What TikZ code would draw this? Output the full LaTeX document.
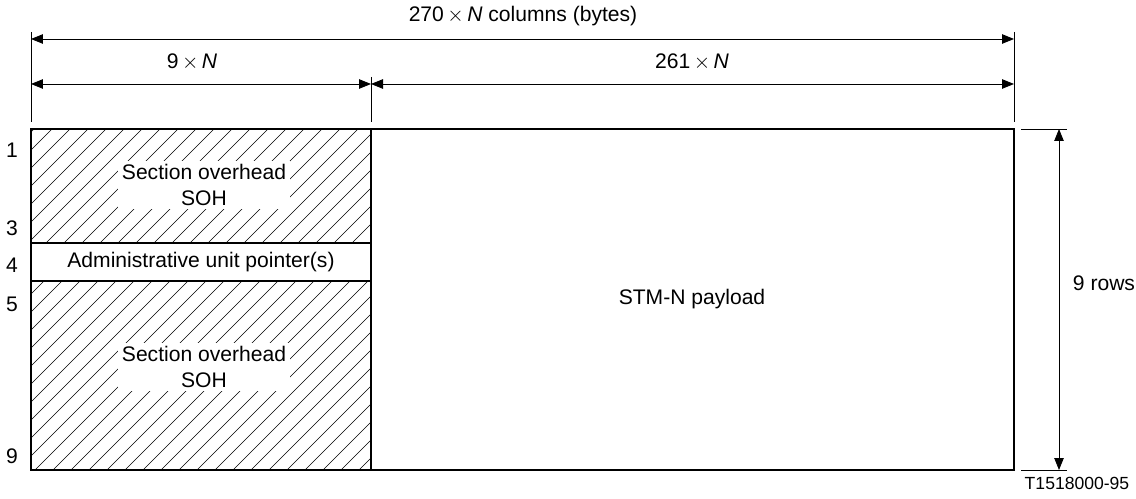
\documentclass[tikz,border=0pt]{standalone}
\usepackage{fontspec}
\setmainfont{Liberation Sans}
\usetikzlibrary{arrows.meta}

\begin{document}
\begin{tikzpicture}[x=0.02cm,y=-0.02cm,>={Triangle[length=2.4mm,width=1.9mm]},
  font=\fontsize{12}{14.5}\selectfont,
  dim/.style={<->,line width=0.5pt},
  ext/.style={line width=0.5pt},
  frame/.style={line width=0.7pt},
  hatch/.style={line width=0.35pt},
  lbl/.style={fill=white,inner sep=2pt,align=center}]
\useasboundingbox (0,0) rectangle (1136,499);

% hatching of the overhead rows
\begin{scope}
\clip (31,129) rectangle (371,243) (31,281) rectangle (371,470);
\foreach \c in {-325,-307,...,371}
  \draw[hatch] (\c,470) -- (\c+341,129);
\end{scope}

% frame
\draw[frame] (31,129) rectangle (1014,470);
\draw[frame] (371,129) -- (371,470);
\draw[frame] (31,243) -- (371,243);
\draw[frame] (31,281) -- (371,281);

\node[lbl] (soh1) at (204,185) {Section overhead\\SOH};
\node[lbl] (soh2) at (204,367) {Section overhead\\SOH};
\node (aup) at (201,262) {Administrative unit pointer(s)};
\node (pay) at (692,299) {STM-N payload};

% row numbers
\node (r1) at (12,150) {1};
\node (r3) at (12,228) {3};
\node (r4) at (12,265) {4};
\node (r5) at (12,304) {5};
\node (r9) at (12,456) {9};

% column dimensions
\coordinate (e1) at (31,32);
\coordinate (e1b) at (31,122);
\coordinate (e2) at (371,77);
\coordinate (e2b) at (371,122);
\coordinate (e3) at (1014,32);
\coordinate (e3b) at (1014,122);
\draw[ext] (e1) -- (e1b);
\draw[ext] (e2) -- (e2b);
\draw[ext] (e3) -- (e3b);

\coordinate (a1) at (31,39);
\coordinate (a3) at (1014,39);
\coordinate (b1) at (31,84);
\coordinate (b2) at (371,84);
\coordinate (b3) at (1014,84);
\draw[dim] (a1) -- (a3);
\draw[dim] (b1) -- (b2);
\draw[dim] (b2) -- (b3);

\node (tot) at (523,16) {270\,$\times$\,\textit{N} columns (bytes)};
\node (c9) at (192,62) {9\,$\times$\,\textit{N}};
\node (c261) at (692,62) {261\,$\times$\,\textit{N}};

% row dimension
\coordinate (f1) at (1021,129);
\coordinate (f1b) at (1067,129);
\coordinate (f2) at (1021,470);
\coordinate (f2b) at (1067,470);
\draw[ext] (f1) -- (f1b);
\draw[ext] (f2) -- (f2b);
\coordinate (v1) at (1059,129);
\coordinate (v2) at (1059,470);
\draw[dim] (v1) -- (v2);
\node (rows) at (1104,283) {9 rows};

\node[font=\fontsize{10}{12}\selectfont] (tag) at (1077,483) {T1518000-95};
\end{tikzpicture}
\end{document}
